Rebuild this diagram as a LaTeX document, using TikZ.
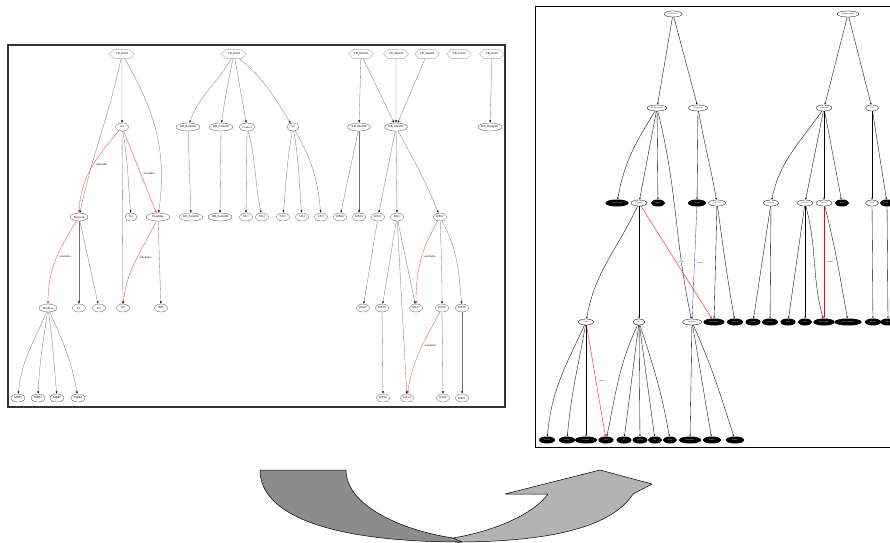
\documentclass[tikz,border=0pt]{standalone}
\usepackage{fontspec}
\setmainfont{Liberation Serif}
\usetikzlibrary{shapes.geometric,shapes.symbols,arrows.meta}
\newcommand\lfnt{\fontsize{3}{3.4}\selectfont}
\newcommand\rfnt{\fontsize{1.7}{2}\selectfont}
\definecolor{darkfold}{HTML}{8C8C8C}
\definecolor{lightfold}{HTML}{B3B3B3}
\begin{document}
\begin{tikzpicture}[x=1pt,y=-1pt,
  lnode/.style={ellipse,draw=black!70,line width=0.3pt,inner sep=0pt,minimum height=8,minimum width=#1,font=\lfnt},
  lnode/.default=13,
  lhex/.style={signal,signal to=west and east,draw=black!60,line width=0.3pt,inner sep=0pt,minimum height=9,minimum width=#1,font=\lfnt},
  lhex/.default=25,
  ledge/.style={draw=black!55,line width=0.3pt,-{Latex[length=2.4pt,width=1.8pt,black]}},
  lred/.style={draw=red!80,line width=0.3pt,-{Latex[length=2.4pt,width=1.8pt,red]}},
  linc/.style={font=\lfnt,fill=white,inner sep=0.3pt},
  rw/.style={ellipse,draw=black,line width=0.3pt,fill=white,inner sep=0pt,minimum height=6,minimum width=#1,font=\rfnt},
  rw/.default=18,
  rb/.style={ellipse,draw=black,line width=1pt,fill=black,text=white,inner sep=0pt,minimum height=6,minimum width=#1,font=\rfnt},
  rb/.default=17,
  redge/.style={draw=black,line width=0.35pt,-{Latex[length=2pt,width=1.6pt]}},
  rred/.style={draw=red,line width=0.35pt,-{Latex[length=2pt,width=1.6pt]}},
  rblue/.style={draw=blue!80,line width=0.35pt,-{Latex[length=2pt,width=1.6pt]}},
  rinc/.style={font=\rfnt,fill=white,inner sep=0.3pt},
  fold/.style={draw=black,line width=0.5pt,line join=round}
]
\useasboundingbox (0,0) rectangle (890,542);
\clip (0,0) rectangle (890,542);

% ---------------- left panel ----------------
\draw[black!80,line width=1.2pt] (8,45) rectangle (505,407);

\node[lhex] (e3) at (122,54) {VB\_Ext03};
\node[lhex] (e5) at (234,54) {VB\_Ext05};
\node[lhex] (m1) at (361,54) {VB\_Mast01};
\node[lhex] (m2) at (396,54) {VB\_Mast02};
\node[lhex] (m3) at (427,54) {VB\_Mast03};
\node[lhex] (x4) at (459,54) {VB\_Ext04};
\node[lhex] (x1) at (492,54) {VB\_Ext01};

\node[lnode] (a4) at (122,127) {A4};
\node[lnode=24] (kb01) at (188,127) {KB\_Extlar01};
\node[lnode=24] (kb03) at (221,127) {KB\_Extlar03};
\node[lnode=15] (ctrl) at (247,127) {Control};
\node[lnode=12] (vi) at (293,127) {VI};
\node[lnode=23] (km0) at (359,127) {KB\_Mast00};
\node[lnode=23] (km1) at (396,127) {KB\_Mast01};
\node[lnode=24] (des) at (490,127) {KB\_Design01};

\node[lnode=18] (net) at (79,217) {Network};
\node[lnode=12] (xx4) at (131,217) {X4};
\node[lnode=24] (dm) at (158,217) {DataMap};
\node[lnode=24] (kb02) at (191,217) {KB\_Extlar02};
\node[lnode=24] (kb04) at (220,217) {KB\_Extlar04};
\node[lnode] (ue1) at (246,217) {UE1};
\node[lnode] (ue2) at (262,217) {UE2};
\node[lnode] (ue3) at (283,217) {UE3};
\node[lnode] (ue4) at (302,217) {UE4};
\node[lnode] (ue5) at (321,217) {UE5};
\node[lnode] (k04) at (340,217) {KB04};
\node[lnode] (k13) at (359,217) {KB13};
\node[lnode] (k11) at (378,217) {KB11};
\node[lnode] (k1) at (397,217) {KB1};
\node[lnode] (k12) at (440,217) {KB12};

\node[lnode=18] (mail) at (48,308) {Mailbox};
\node[lnode] (p1) at (79,308) {P1};
\node[lnode] (p2) at (99,308) {P2};
\node[lnode] (p3) at (123,308) {P3};
\node[lnode] (b01) at (161,308) {B01};
\node[lnode] (k22) at (363,308) {KB22};
\node[lnode] (k15) at (382,308) {KB15};
\node[lnode] (k17) at (416,308) {KB17};
\node[lnode] (k18) at (442,308) {KB18};
\node[lnode] (k19) at (462,308) {KB19};

\node[lnode=14] (mb1) at (18,398) {MB01};
\node[lnode=14] (mb2) at (38,398) {MB03};
\node[lnode=14] (mb3) at (57,398) {MB02};
\node[lnode=14] (mb4) at (78,398) {MB04};
\node[lnode] (k16) at (383,398) {KB16};
\node[lnode] (k14) at (407,398) {KB14};
\node[lnode] (k20) at (443,398) {KB20};
\node[lnode] (k21) at (462,398) {KB21};

\path (e3) edge[ledge] (a4)
      (e3) edge[ledge,out=-102,in=78] (net)
      (e3) edge[ledge,out=-60,in=82] (dm)
      (a4) edge[ledge,out=-80,in=95] (xx4)
      (a4) edge[ledge] (p3)
      (dm) edge[ledge] (b01)
      (net) edge[ledge] (p1)
      (net) edge[ledge] (p2)
      (mail) edge[ledge,out=-112,in=85] (mb1)
      (mail) edge[ledge,out=-98,in=88] (mb2)
      (mail) edge[ledge,out=-82,in=95] (mb3)
      (mail) edge[ledge,out=-66,in=100] (mb4);
\draw[lred] (a4) to[out=-130,in=88] node[linc,pos=0.45,right=2pt] {<<include>>} (net);
\draw[lred] (a4) to node[linc,pos=0.52,right=2pt] {<<include>>} (dm);
\draw[lred] (dm) to[out=-115,in=85] node[linc,pos=0.45,right=2pt] {<<include>>} (p3);
\draw[lred] (net) to[out=-122,in=90] node[linc,pos=0.45,right=2pt] {<<include>>} (mail);

\path (e5) edge[ledge,out=-120,in=70] (kb01)
      (e5) edge[ledge,out=-102,in=82] (kb03)
      (e5) edge[ledge,out=-80,in=100] (ctrl)
      (e5) edge[ledge,out=-40,in=122] (vi)
      (kb01) edge[ledge] (kb02)
      (kb03) edge[ledge] (kb04)
      (ctrl) edge[ledge] (ue1)
      (ctrl) edge[ledge,out=-75,in=102] (ue2)
      (vi) edge[ledge,out=-100,in=85] (ue3)
      (vi) edge[ledge,out=-80,in=95] (ue4)
      (vi) edge[ledge,out=-60,in=95] (ue5);

\path (m1) edge[ledge] (km0)
      (m1) edge[ledge] (km1)
      (m2) edge[ledge] (km1)
      (m3) edge[ledge] (km1)
      (x1) edge[ledge] (des)
      (km0) edge[ledge] (k04)
      (km0) edge[ledge] (k13)
      (km1) edge[ledge] (k11)
      (km1) edge[ledge] (k1)
      (km1) edge[ledge,out=-62,in=112] (k12)
      (k11) edge[ledge] (k22)
      (k1) edge[ledge] (k15)
      (k1) edge[ledge] (k17)
      (k1) edge[ledge] (k14)
      (k12) edge[ledge,out=-88,in=90] (k18)
      (k12) edge[ledge,out=-62,in=95] (k19)
      (k15) edge[ledge] (k16)
      (k18) edge[ledge] (k20)
      (k19) edge[ledge] (k21);
\draw[lred] (k12) to[out=-120,in=90] node[linc,pos=0.45,right=2pt] {<<include>>} (k17);
\draw[lred] (k18) to[out=-118,in=82] node[linc,pos=0.42,right=2pt] {<<include>>} (k14);

% ---------------- right panel ----------------
\draw[black,line width=1pt] (535,6) rectangle (900,447);

\node[rw=18] (r1a) at (673,14) {Security Role};
\node[rw=22] (r1b) at (848,14) {System Architecture};

\node[rw=20] (r2a) at (657,108) {Run Environment};
\node[rw=19] (r2b) at (698,108) {Configuration};
\node[rw=16] (r2c) at (824,108) {Component};
\node[rw=13] (r2d) at (872,108) {Node};

\node[rb=22] (r3a) at (617,203) {Virtual Storage};
\node[rw=16] (r3b) at (639,203) {Subsystem};
\node[rb=13] (r3c) at (658,203) {Adapter};
\node[rb=17] (r3d) at (697,203) {Interface};
\node[rw=17] (r3e) at (717,203) {Connection};
\node[rw=15] (r3f) at (771,203) {Controller};
\node[rw=16] (r3g) at (805,203) {Processor};
\node[rw=16] (r3h) at (824,203) {Scheduler};
\node[rb=13] (r3i) at (842,203) {Driver};
\node[rw=13] (r3j) at (872,203) {Device};
\node[rb=13] (r3k) at (887,203) {Port};

\node[rw=15] (r4a) at (586,322) {Session};
\node[rw=12] (r4b) at (639,322) {Task};
\node[rw=19] (r4c) at (692,322) {Deployment};
\node[rb=20] (r4d) at (714,322) {Data Channel};
\node[rb=15] (r4e) at (735,322) {Protocol};
\node[rb=14] (r4f) at (753,322) {Signal};
\node[rb=15] (r4g) at (770,322) {Sensor};
\node[rb=14] (r4h) at (788,322) {Buffer};
\node[rb=13] (r4i) at (805,322) {Queue};
\node[rb=20] (r4j) at (824,322) {Event Handler};
\node[rb=26] (r4k) at (848,322) {Resource Manager};
\node[rb=15] (r4l) at (873,322) {Monitor};
\node[rb=14] (r4m) at (888,322) {Timer};

\node[rb=15] (r5a) at (547,440) {Account};
\node[rb=15] (r5b) at (567,440) {Profile};
\node[rb=21] (r5c) at (586,440) {Credentials};
\node[rb=14] (r5d) at (606,440) {Token};
\node[rb=14] (r5e) at (624,440) {Job};
\node[rb=14] (r5f) at (640,440) {Thread};
\node[rb=13] (r5g) at (655,440) {Step};
\node[rb=13] (r5h) at (670,440) {Action};
\node[rb=21] (r5i) at (690,440) {Environment};
\node[rb=17] (r5j) at (712,440) {Instance};
\node[rb=17] (r5k) at (735,440) {Artifact};

\path (r1a) edge[redge] (r2a)
      (r1a) edge[redge] (r2b)
      (r1b) edge[redge] (r2c)
      (r1b) edge[redge] (r2d)
      (r2a) edge[redge,out=-122,in=80] (r3a)
      (r2a) edge[redge] (r3b)
      (r2a) edge[redge] (r3c)
      (r2a) edge[redge,out=-76,in=102] (r4c)
      (r2b) edge[redge] (r3d)
      (r2b) edge[redge,out=-80,in=100] (r3e)
      (r2c) edge[redge,out=-125,in=78] (r3f)
      (r2c) edge[redge] (r3g)
      (r2c) edge[redge] (r3h)
      (r2c) edge[redge] (r3i)
      (r2d) edge[redge] (r3j)
      (r2d) edge[redge] (r3k)
      (r3b) edge[redge,out=-115,in=80] (r4a)
      (r3b) edge[redge] (r4b)
      (r3e) edge[redge] (r4d)
      (r3e) edge[redge,out=-82,in=100] (r4e)
      (r3f) edge[redge] (r4f)
      (r3f) edge[redge] (r4g)
      (r3g) edge[redge] (r4h)
      (r3g) edge[redge] (r4i)
      (r3g) edge[redge,out=-75,in=105] (r4j)
      (r3h) edge[redge,out=-76,in=100] (r4k)
      (r3j) edge[redge] (r4l)
      (r3k) edge[redge] (r4m)
      (r4a) edge[redge,out=-115,in=85] (r5a)
      (r4a) edge[redge,out=-100,in=85] (r5b)
      (r4a) edge[redge] (r5c)
      (r4b) edge[redge,out=-115,in=78] (r5d)
      (r4b) edge[redge] (r5e)
      (r4b) edge[redge] (r5f)
      (r4b) edge[redge] (r5g)
      (r4b) edge[redge,out=-72,in=100] (r5h)
      (r4c) edge[redge] (r5i)
      (r4c) edge[redge,out=-80,in=100] (r5j)
      (r4c) edge[redge,out=-66,in=108] (r5k);
\draw[rred] (r3b) to node[rinc,pos=0.5,right=1pt] {<<include>>} (r4d);
\draw[rblue] (r3d) to node[rinc,pos=0.5,right=2pt] {<<include>>} (r4c);
\draw[rred] (r3h) to node[rinc,pos=0.5,right=2pt] {<<include>>} (r4j);
\draw[rred] (r4a) to node[rinc,pos=0.5,right=2pt] {<<include>>} (r5d);

% ---------------- folded turn arrow ----------------
\fill[lightfold] (453,538) .. controls (500,530) and (535,512) .. (548,494)
  -- (505,494) -- (600,470) -- (652,484) -- (633,494)
  .. controls (610,530) and (540,542) .. (455,542) -- cycle;
\draw[fold] (453,538) .. controls (500,530) and (535,512) .. (548,494)
  -- (505,494) -- (600,470) -- (652,484) -- (633,494)
  .. controls (610,530) and (540,542) .. (455,542);
\filldraw[fold,fill=darkfold] (260,470) -- (346,470)
  .. controls (346,505) and (400,530) .. (453,538) -- (462,542)
  .. controls (330,542) and (260,515) .. (260,470) -- cycle;
\end{tikzpicture}
\end{document}
